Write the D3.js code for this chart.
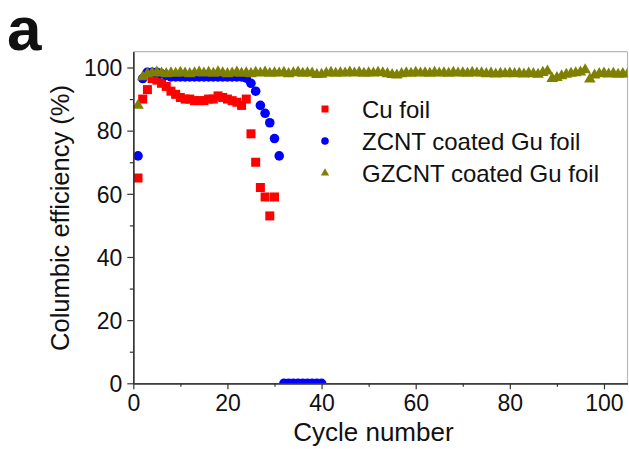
<!DOCTYPE html>
<html>
<head>
<meta charset="utf-8">
<script src="https://cdn.jsdelivr.net/npm/d3@7/dist/d3.min.js"></script>
<style>
  html, body { margin: 0; padding: 0; background: #fff; }
  svg { display: block; font-family: "Liberation Sans", Arial, sans-serif; }
</style>
</head>
<body>
<svg id="chart" width="629" height="449"></svg>
<script>
// Coulombic efficiency (%) per cycle for the three current collectors
const cuCycles = d3.range(1, 31);
const cuEff = [65, 90, 93, 96.5, 96, 95, 94, 92.5, 91.5, 90.5,
               90, 90, 89.5, 89.5, 89.5, 90, 90, 91, 90.5, 90,
               89.5, 89, 88, 90, 79, 70, 62, 59, 53, 59];

const zcntCycles = d3.range(1, 41);
const zcntEff = [72, 96.5, 98.5, 98.5, 98.5, 98, 97.5, 97, 97, 97,
                 97, 97, 97, 97, 97, 97, 97, 97, 97, 97,
                 97, 97, 97, 96.6, 95, 92.5, 88, 85.5, 82.5, 77.5,
                 72, 0, 0, 0, 0, 0, 0, 0, 0, 0];

const gzcntCycles = d3.range(1, 106);
const gzcntEff = [88, 97, 98, 98.3, 98.5, 98.2, 98, 98.3, 98.1, 98.4,
                  98.2, 98, 98.3, 98.5, 98.2, 98.4, 98.1, 98.6, 98.3, 98,
                  98.2, 98.5, 98.1, 98.3, 98, 98.4, 98.2, 98.5, 98.1, 98.3,
                  98.2, 98.4, 98, 98.3, 98.5, 98.1, 98.3, 98.2, 97.7, 97.8,
                  98.2, 98.4, 98.1, 98.3, 98.2, 98.5, 98.2, 98.4, 98.1, 98.3,
                  98.2, 98.4, 98.3, 98, 97.7, 97.6, 98, 98.3, 98.1, 98.4,
                  98.2, 98.3, 98.1, 98.4, 98.2, 98.3, 98.1, 98.4, 98.2, 98.3,
                  98.1, 98.4, 98.2, 98.3, 98, 98.2, 97.9, 98.1, 98, 98.2,
                  98, 98.1, 97.9, 98.2, 98, 97.8, 98.4, 98.8, 96.5, 96.8,
                  97.3, 97.8, 98.1, 98.3, 98.5, 99.2, 96.3, 97.6, 98, 98.2,
                  97.9, 98.1, 97.8, 98, 97.9];

const xTicks = [0, 20, 40, 60, 80, 100];
const yTicks = [0, 20, 40, 60, 80, 100];
const xMinor = [10, 30, 50, 70, 90];
const yMinor = [10, 30, 50, 70, 90];

const seriesNames = ["Cu foil", "ZCNT coated Gu foil", "GZCNT coated Gu foil"];
const seriesColors = ["#ff0000", "#0000ff", "#808000"];

const svg = d3.select("#chart");
const plotLeft = 133.3, plotRight = 627.5, plotTop = 51.7, plotBottom = 383.3;

const x = d3.scaleLinear().domain([0, 105]).range([plotLeft, plotRight]);
const y = d3.scaleLinear().domain([0, 105]).range([plotBottom, plotTop]);

// panel letter
svg.append("text")
  .attr("x", 7).attr("y", 50)
  .attr("font-size", 62).attr("font-weight", "bold")
  .attr("fill", "#111")
  .text("a");

// frame (top and right edges are light)
svg.append("line").attr("x1", plotLeft).attr("x2", plotRight).attr("y1", plotTop).attr("y2", plotTop)
  .attr("stroke", "#b8b8b8").attr("stroke-width", 1.2);
svg.append("line").attr("x1", plotRight).attr("x2", plotRight).attr("y1", plotTop).attr("y2", plotBottom)
  .attr("stroke", "#b8b8b8").attr("stroke-width", 1.2);

svg.append("defs").append("clipPath").attr("id", "plotClip")
  .append("rect").attr("x", plotLeft).attr("y", plotTop)
  .attr("width", plotRight - plotLeft).attr("height", plotBottom - plotTop);

const plot = svg.append("g").attr("clip-path", "url(#plotClip)");

// Cu foil: squares
const sq = 9;
plot.append("g").selectAll("rect")
  .data(cuCycles.map((c, i) => [c, cuEff[i]]))
  .join("rect")
  .attr("x", d => x(d[0]) - sq / 2)
  .attr("y", d => y(d[1]) - sq / 2)
  .attr("width", sq).attr("height", sq)
  .attr("fill", seriesColors[0]);

// ZCNT: circles
plot.append("g").selectAll("circle")
  .data(zcntCycles.map((c, i) => [c, zcntEff[i]]))
  .join("circle")
  .attr("cx", d => x(d[0]))
  .attr("cy", d => y(d[1]))
  .attr("r", 4.8)
  .attr("fill", seriesColors[1]);

// GZCNT: triangles
const tri = d3.symbol().type(d3.symbolTriangle).size(58);
plot.append("g").selectAll("path")
  .data(gzcntCycles.map((c, i) => [c, gzcntEff[i]]))
  .join("path")
  .attr("d", tri)
  .attr("transform", d => `translate(${x(d[0])},${y(d[1])})`)
  .attr("fill", seriesColors[2]);

// axes
const axisColor = "#333";
const xAxis = svg.append("g").attr("transform", `translate(0,${plotBottom})`)
  .call(d3.axisBottom(x).tickValues(xTicks).tickSize(6).tickPadding(5).tickSizeOuter(0));
const xAxisMinor = svg.append("g").attr("transform", `translate(0,${plotBottom})`)
  .call(d3.axisBottom(x).tickValues(xMinor).tickSize(3.5).tickFormat("").tickSizeOuter(0));
const yAxis = svg.append("g").attr("transform", `translate(${plotLeft},0)`)
  .call(d3.axisLeft(y).tickValues(yTicks).tickSize(6).tickPadding(5).tickSizeOuter(0));
const yAxisMinor = svg.append("g").attr("transform", `translate(${plotLeft},0)`)
  .call(d3.axisLeft(y).tickValues(yMinor).tickSize(3.5).tickFormat("").tickSizeOuter(0));

[xAxis, xAxisMinor, yAxis, yAxisMinor].forEach(g => {
  g.select(".domain").attr("stroke", axisColor).attr("stroke-width", 1.3);
  g.selectAll(".tick line").attr("stroke", axisColor).attr("stroke-width", 1.2);
  g.selectAll("text").attr("font-family", "Liberation Sans, Arial, sans-serif")
    .attr("font-size", 23).attr("fill", "#111");
});
xAxis.selectAll("text").attr("dy", "0.72em").attr("y", 11);
yAxis.selectAll("text").attr("dy", "0.36em");

// axis titles
svg.append("text")
  .attr("x", (plotLeft + plotRight) / 2 - 7).attr("y", 441)
  .attr("text-anchor", "middle").attr("font-size", 26).attr("fill", "#111")
  .text("Cycle number");
svg.append("text")
  .attr("transform", "translate(69,218) rotate(-90)")
  .attr("text-anchor", "middle").attr("font-size", 25.5).attr("fill", "#111")
  .text("Columbic efficiency (%)");

// legend
const legend = svg.append("g");
const legendY = [109, 141, 173];
const legendMarkers = [
  g => g.append("rect").attr("x", -3.5).attr("y", -3.5).attr("width", 7).attr("height", 7),
  g => g.append("circle").attr("r", 3.8),
  g => g.append("path").attr("d", d3.symbol().type(d3.symbolTriangle).size(30)())
];
seriesNames.forEach((name, i) => {
  const row = legend.append("g").attr("transform", `translate(325,${legendY[i]})`);
  legendMarkers[i](row).attr("fill", seriesColors[i]);
  row.append("text").attr("x", 37).attr("y", 9)
    .attr("font-size", 24).attr("fill", "#111").text(name);
});
</script>
</body>
</html>
